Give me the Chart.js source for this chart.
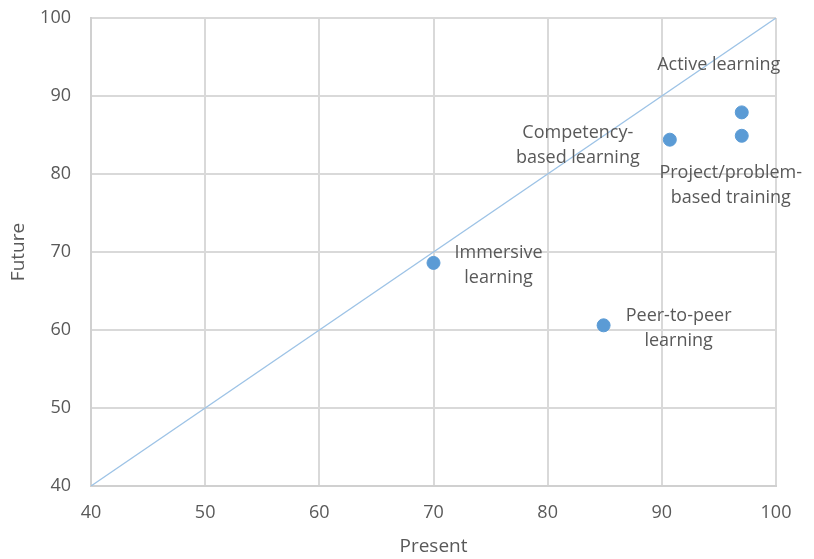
<!DOCTYPE html>
<html><head><meta charset="utf-8">
<script src="https://cdn.jsdelivr.net/npm/chart.js@4/dist/chart.umd.min.js"></script>
<style>html,body{margin:0;padding:0;background:#fff}#wrap{width:814px;height:559px}</style>
</head><body><div id="wrap"><canvas id="c" width="814" height="559"></canvas></div>
<script>
const methods = ["Active learning", "Competency-based learning", "Project/problem-based training", "Immersive learning", "Peer-to-peer learning"];
const labelLines = [["Active learning"], ["Competency-", "based learning"], ["Project/problem-", "based training"], ["Immersive", "learning"], ["Peer-to-peer", "learning"]];
const presentValues = [97, 90.7, 97, 70, 84.9];
const futureValues = [87.9, 84.4, 84.9, 68.6, 60.6];
const diagonal = [40, 100];
const xTicks = [40, 50, 60, 70, 80, 90, 100];
const yTicks = [40, 50, 60, 70, 80, 90, 100];

// label placement style (offset of text block centre from point)
const labelOffsets = [[-23, -48], [-92, 6], [-11, 50], [65, 2], [75, 3]];

const FONT = "'Open Sans', sans-serif";
const TXT = '#595959';

const labelPlugin = {
  id: 'pointLabels',
  afterDatasetsDraw(chart) {
    const ctx = chart.ctx;
    const meta = chart.getDatasetMeta(0);
    ctx.save();
    ctx.font = "18px " + FONT;
    ctx.fillStyle = TXT;
    ctx.textAlign = 'center';
    ctx.textBaseline = 'middle';
    const lh = 25;
    meta.data.forEach((pt, i) => {
      const lines = labelLines[i];
      const cx = pt.x + labelOffsets[i][0];
      const cy = pt.y + labelOffsets[i][1];
      const y0 = cy - (lines.length - 1) * lh / 2;
      lines.forEach((t, j) => ctx.fillText(t, cx, y0 + j * lh));
    });
    ctx.restore();
  }
};

new Chart(document.getElementById('c'), {
  type: 'scatter',
  data: {
    datasets: [
      {
        label: 'Methods',
        data: presentValues.map((x, i) => ({x, y: futureValues[i]})),
        backgroundColor: '#5b9bd5',
        borderColor: '#5b9bd5',
        pointRadius: 6.5,
        pointHoverRadius: 6.5,
        order: 0
      },
      {
        type: 'line',
        label: 'Parity',
        data: diagonal.map(v => ({x: v, y: v})),
        borderColor: '#9dc3e6',
        borderWidth: 1.3,
        pointRadius: 0,
        fill: false,
        order: 1
      }
    ]
  },
  options: {
    responsive: false,
    animation: false,
    devicePixelRatio: 1,
    layout: {padding: {top: 18, right: 38, left: 0, bottom: 0}},
    plugins: {legend: {display: false}, tooltip: {enabled: false}},
    scales: {
      x: {
        type: 'linear', min: 40, max: 100,
        afterBuildTicks: s => { s.ticks = xTicks.map(v => ({value: v})); },
        afterFit: s => { s.height = 73; s.paddingLeft = 0; s.paddingRight = 0; },
        grid: {color: '#d9d9d9', lineWidth: 2, drawTicks: false},
        border: {color: '#d0d0d0', width: 2},
        ticks: {color: TXT, font: {family: FONT, size: 18}, padding: 16, maxRotation: 0},
        title: {display: true, text: 'Present', color: TXT, font: {family: FONT, size: 19}, padding: {top: 0, bottom: 1}}
      },
      y: {
        type: 'linear', min: 40, max: 100,
        afterBuildTicks: s => { s.ticks = yTicks.map(v => ({value: v})); },
        afterFit: s => { s.width = 91; s.paddingTop = 0; s.paddingBottom = 0; },
        grid: {color: '#d9d9d9', lineWidth: 2, drawTicks: false},
        border: {color: '#d0d0d0', width: 2},
        ticks: {color: TXT, font: {family: FONT, size: 18}, padding: 20},
        title: {display: true, text: 'Future', color: TXT, font: {family: FONT, size: 19}, padding: {top: 7, bottom: 0}}
      }
    }
  },
  plugins: [labelPlugin]
});
</script></body></html>
